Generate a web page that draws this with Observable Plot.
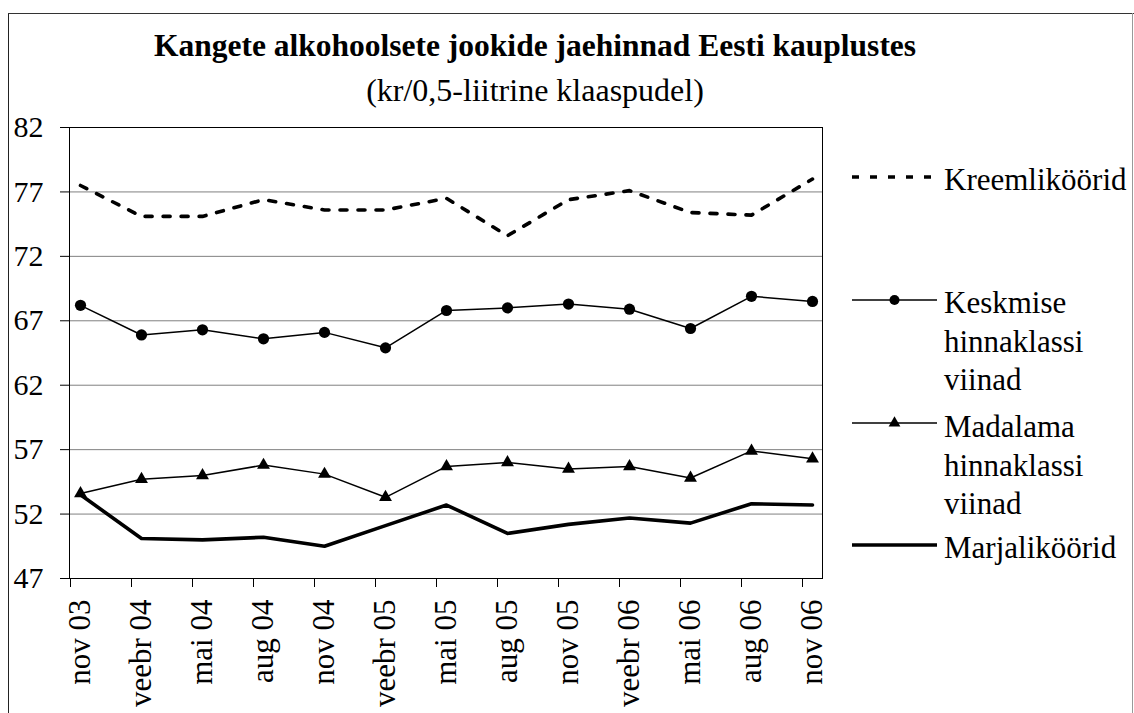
<!DOCTYPE html>
<html>
<head>
<meta charset="utf-8">
<script src="https://cdn.jsdelivr.net/npm/d3@7"></script>
<script src="https://cdn.jsdelivr.net/npm/@observablehq/plot@0.6"></script>
<style>
  html, body { margin: 0; padding: 0; background: #fff; }
  #page { position: relative; width: 1134px; height: 713px; overflow: hidden; background: #fff; font-family: "Liberation Serif", "Times New Roman", serif; color: #000; }
  .title { position: absolute; left: 0; width: 1070px; text-align: center; white-space: nowrap; }
  #t1 { top: 31px; font-size: 31.5px; line-height: 30px; font-weight: bold; }
  #t2 { top: 75px; font-size: 32px; line-height: 30px; }
  #chart { position: absolute; left: 0; top: 110px; }
  #legend { position: absolute; left: 0; top: 0; pointer-events: none; }
  .bl { position: absolute; }
</style>
</head>
<body>
<div id="page">
  <div class="bl" style="left:8px; top:13px; width:1px; height:700px; background:#222;"></div>
  <div class="bl" style="left:8px; top:13px; width:1126px; height:1px; background:#333;"></div>
  <div class="bl" style="left:1132px; top:13px; width:1px; height:700px; background:#999;"></div>
  <div class="title" id="t1">Kangete alkohoolsete jookide jaehinnad Eesti kauplustes</div>
  <div class="title" id="t2">(kr/0,5-liitrine klaaspudel)</div>
  <div id="chart"></div>
  <svg id="legend" width="1134" height="713"></svg>
</div>
<script>
// ---- data ----
const categories = ["nov 03","veebr 04","mai 04","aug 04","nov 04","veebr 05","mai 05","aug 05","nov 05","veebr 06","mai 06","aug 06","nov 06"];
const kreemlikoorid = [77.5, 75.1, 75.1, 76.4, 75.6, 75.6, 76.5, 73.6, 76.4, 77.1, 75.4, 75.2, 78.0];
const keskmise = [68.2, 65.9, 66.3, 65.6, 66.1, 64.9, 67.8, 68.0, 68.3, 67.9, 66.4, 68.9, 68.5];
const madalama = [53.6, 54.7, 55.0, 55.8, 55.1, 53.3, 55.7, 56.0, 55.5, 55.7, 54.8, 56.9, 56.3];
const marjalikoorid = [53.5, 50.1, 50.0, 50.2, 49.5, 51.1, 52.7, 50.5, 51.2, 51.7, 51.3, 52.8, 52.7];
const yTicks = [47, 52, 57, 62, 67, 72, 77, 82];
const seriesNames = ["Kreemliköörid", "Keskmise hinnaklassi viinad", "Madalama hinnaklassi viinad", "Marjaliköörid"];

const rows = (vals) => categories.map((c, i) => ({cat: c, v: vals[i]}));
const dKreem = rows(kreemlikoorid);
const dKesk = rows(keskmise);
const dMad = rows(madalama);
const dMarja = rows(marjalikoorid);

const font = "Liberation Serif, Times New Roman, serif";

const chart = Plot.plot({
  width: 1134,
  height: 603,
  marginTop: 17,
  marginBottom: 135,
  marginLeft: 69,
  marginRight: 312,
  x: {type: "point", domain: categories, range: [79, 813], padding: 0, label: null},
  y: {domain: [47, 82], label: null},
  style: {fontFamily: font, fontSize: "31px", color: "#000", background: "transparent", overflow: "visible"},
  marks: [
    Plot.ruleY(yTicks.slice(1, -1), {stroke: "#808080", strokeWidth: 1}),
    Plot.frame({stroke: "#000", strokeWidth: 1}),
    Plot.axisY({ticks: yTicks, tickSize: 9, tickPadding: 17, fontSize: 30, label: null, tickFormat: d => String(d)}),
    Plot.axisX({tickSize: 9, tickFormat: () => "", dx: -10, label: null}),
    Plot.axisX({tickSize: 0, tickPadding: 21, tickRotate: -90, fontSize: 31, label: null}),
    Plot.line(dKreem, {x: "cat", y: "v", stroke: "#000", strokeWidth: 3.6, strokeDasharray: "7,11"}),
    Plot.line(dKesk, {x: "cat", y: "v", stroke: "#000", strokeWidth: 1.5}),
    Plot.dot(dKesk, {x: "cat", y: "v", r: 5.6, fill: "#000", stroke: "none"}),
    Plot.line(dMad, {x: "cat", y: "v", stroke: "#000", strokeWidth: 1.5}),
    Plot.dot(dMad, {x: "cat", y: "v", r: 4.8, symbol: "triangle", fill: "#000", stroke: "none"}),
    Plot.line(dMarja, {x: "cat", y: "v", stroke: "#000", strokeWidth: 3.6})
  ]
});
document.getElementById("chart").appendChild(chart);

// ---- legend ----
const lg = d3.select("#legend");
const lx1 = 852, lx2 = 937, tx = 944, lh = 38.5;
const items = [
  {name: seriesNames[0], lines: ["Kreemliköörid"], ly: 177, base: 190, style: "dash"},
  {name: seriesNames[1], lines: ["Keskmise", "hinnaklassi", "viinad"], ly: 300, base: 313, style: "circle"},
  {name: seriesNames[2], lines: ["Madalama", "hinnaklassi", "viinad"], ly: 423, base: 437, style: "triangle"},
  {name: seriesNames[3], lines: ["Marjaliköörid"], ly: 545, base: 558, style: "thick"}
];
items.forEach(it => {
  const thick = it.style === "dash" || it.style === "thick";
  lg.append("line").attr("x1", lx1).attr("x2", lx2).attr("y1", it.ly).attr("y2", it.ly)
    .attr("stroke", "#000").attr("stroke-width", thick ? 3.6 : 1.3)
    .attr("stroke-dasharray", it.style === "dash" ? "7,11" : null);
  const cx = (lx1 + lx2) / 2;
  if (it.style === "circle") lg.append("circle").attr("cx", cx).attr("cy", it.ly).attr("r", 5).attr("fill", "#000");
  if (it.style === "triangle") lg.append("path").attr("transform", `translate(${cx},${it.ly})`)
    .attr("d", d3.symbol(d3.symbolTriangle, 60)()).attr("fill", "#000");
  it.lines.forEach((t, j) => {
    lg.append("text").attr("x", tx).attr("y", it.base + j * lh)
      .attr("font-family", font).attr("font-size", 31).attr("fill", "#000").text(t);
  });
});
</script>
</body>
</html>
